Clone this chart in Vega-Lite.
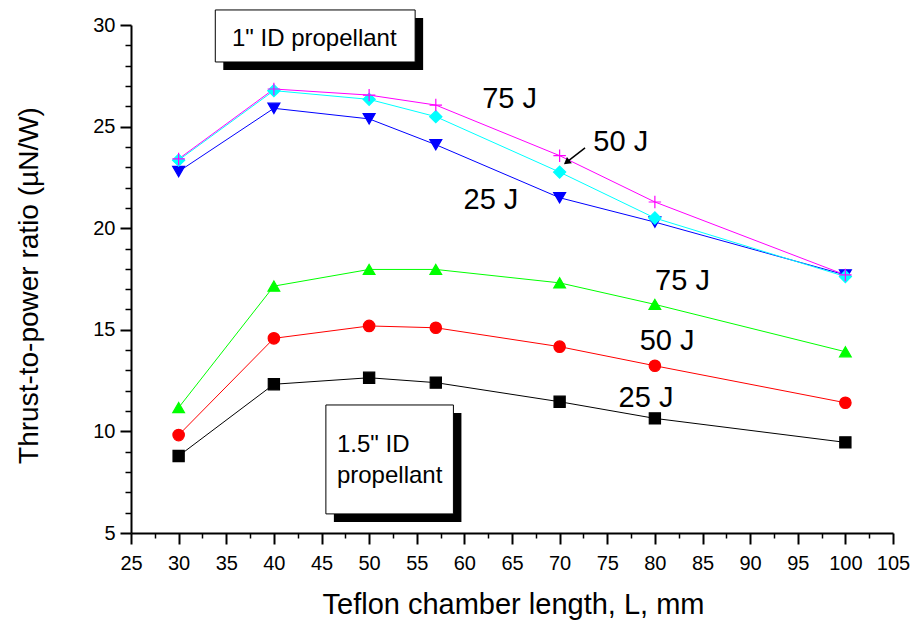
{
  "$schema": "https://vega.github.io/schema/vega-lite/v6.json",
  "width": 762,
  "height": 508,
  "autosize": {"type": "none"},
  "padding": {"left": 131, "top": 25, "right": 22, "bottom": 88},
  "background": "white",
  "config": {"view": {"stroke": null}, "font": "Liberation Sans"},
  "datasets": {
    "series": [
      {"L": 30, "ratio": 8.79, "series": "1.5in 25 J"},
      {"L": 40, "ratio": 12.32, "series": "1.5in 25 J"},
      {"L": 50, "ratio": 12.64, "series": "1.5in 25 J"},
      {"L": 57, "ratio": 12.40, "series": "1.5in 25 J"},
      {"L": 70, "ratio": 11.46, "series": "1.5in 25 J"},
      {"L": 80, "ratio": 10.64, "series": "1.5in 25 J"},
      {"L": 100, "ratio": 9.46, "series": "1.5in 25 J"},
      {"L": 30, "ratio": 9.82, "series": "1.5in 50 J"},
      {"L": 40, "ratio": 14.58, "series": "1.5in 50 J"},
      {"L": 50, "ratio": 15.19, "series": "1.5in 50 J"},
      {"L": 57, "ratio": 15.10, "series": "1.5in 50 J"},
      {"L": 70, "ratio": 14.17, "series": "1.5in 50 J"},
      {"L": 80, "ratio": 13.23, "series": "1.5in 50 J"},
      {"L": 100, "ratio": 11.41, "series": "1.5in 50 J"},
      {"L": 30, "ratio": 11.17, "series": "1.5in 75 J"},
      {"L": 40, "ratio": 17.15, "series": "1.5in 75 J"},
      {"L": 50, "ratio": 17.97, "series": "1.5in 75 J"},
      {"L": 57, "ratio": 17.97, "series": "1.5in 75 J"},
      {"L": 70, "ratio": 17.31, "series": "1.5in 75 J"},
      {"L": 80, "ratio": 16.25, "series": "1.5in 75 J"},
      {"L": 100, "ratio": 13.92, "series": "1.5in 75 J"},
      {"L": 30, "ratio": 22.79, "series": "1in 25 J"},
      {"L": 40, "ratio": 25.90, "series": "1in 25 J"},
      {"L": 50, "ratio": 25.38, "series": "1in 25 J"},
      {"L": 57, "ratio": 24.11, "series": "1in 25 J"},
      {"L": 70, "ratio": 21.50, "series": "1in 25 J"},
      {"L": 80, "ratio": 20.30, "series": "1in 25 J"},
      {"L": 100, "ratio": 17.70, "series": "1in 25 J"},
      {"L": 30, "ratio": 23.35, "series": "1in 50 J"},
      {"L": 40, "ratio": 26.77, "series": "1in 50 J"},
      {"L": 50, "ratio": 26.34, "series": "1in 50 J"},
      {"L": 57, "ratio": 25.49, "series": "1in 50 J"},
      {"L": 70, "ratio": 22.76, "series": "1in 50 J"},
      {"L": 80, "ratio": 20.50, "series": "1in 50 J"},
      {"L": 100, "ratio": 17.62, "series": "1in 50 J"},
      {"L": 30, "ratio": 23.41, "series": "1in 75 J"},
      {"L": 40, "ratio": 26.85, "series": "1in 75 J"},
      {"L": 50, "ratio": 26.55, "series": "1in 75 J"},
      {"L": 57, "ratio": 26.06, "series": "1in 75 J"},
      {"L": 70, "ratio": 23.57, "series": "1in 75 J"},
      {"L": 80, "ratio": 21.29, "series": "1in 75 J"},
      {"L": 100, "ratio": 17.70, "series": "1in 75 J"}
    ],
    "labels": [
      {"x": 64.75, "y": 25.90, "text": "75 J"},
      {"x": 76.42, "y": 23.81, "text": "50 J"},
      {"x": 62.79, "y": 20.93, "text": "25 J"},
      {"x": 82.90, "y": 16.96, "text": "75 J"},
      {"x": 81.28, "y": 14.01, "text": "50 J"},
      {"x": 79.07, "y": 11.20, "text": "25 J"}
    ],
    "boxes": [
      {"x1": 33.85, "x2": 54.83, "y1": 30.74, "y2": 28.18},
      {"x1": 45.46, "x2": 58.85, "y1": 11.30, "y2": 5.94}
    ],
    "boxText": [
      {"x": 35.60, "y": 28.98, "text": "1\" ID propellant"},
      {"x": 46.62, "y": 9.00, "text": "1.5\" ID"},
      {"x": 46.62, "y": 7.46, "text": "propellant"}
    ],
    "arrow": [
      {"x": 72.67, "y": 23.95, "x2": 70.74, "y2": 23.25}
    ],
    "arrowHead": [
      {"x": 70.74, "y": 23.25}
    ]
  },
  "resolve": {"axis": {"x": "independent", "y": "independent"}},
  "layer": [
    {
      "data": {"name": "series"},
      "mark": {"type": "point", "opacity": 0},
      "encoding": {
        "x": {"field": "L", "type": "quantitative",
          "scale": {"domain": [25, 105], "nice": false, "zero": false},
          "axis": {"orient": "bottom", "values": [27.5, 32.5, 37.5, 42.5, 47.5, 52.5, 57.5, 62.5, 67.5, 72.5, 77.5, 82.5, 87.5, 92.5, 97.5, 102.5],
            "tickSize": 5, "tickWidth": 1.5, "tickColor": "black", "labels": false, "domain": false, "grid": false, "title": null}},
        "y": {"field": "ratio", "type": "quantitative",
          "scale": {"domain": [5, 30], "nice": false, "zero": false},
          "axis": {"orient": "left", "values": [6, 7, 8, 9, 11, 12, 13, 14, 16, 17, 18, 19, 21, 22, 23, 24, 26, 27, 28, 29],
            "tickSize": 6, "tickWidth": 1.5, "tickColor": "black", "labels": false, "domain": false, "grid": false, "title": null}}
      }
    },
    {
      "data": {"name": "boxes"},
      "mark": {"type": "rect", "fill": "black", "xOffset": 8, "x2Offset": 8, "yOffset": 8, "y2Offset": 8},
      "encoding": {
        "x": {"field": "x1", "type": "quantitative", "axis": null},
        "x2": {"field": "x2"},
        "y": {"field": "y1", "type": "quantitative", "axis": null},
        "y2": {"field": "y2"}
      }
    },
    {
      "data": {"name": "boxes"},
      "mark": {"type": "rect", "fill": "white", "stroke": "black", "strokeWidth": 1},
      "encoding": {
        "x": {"field": "x1", "type": "quantitative", "axis": null},
        "x2": {"field": "x2"},
        "y": {"field": "y1", "type": "quantitative", "axis": null},
        "y2": {"field": "y2"}
      }
    },
    {
      "data": {"name": "boxText"},
      "mark": {"type": "text", "align": "left", "baseline": "alphabetic", "fontSize": 24, "color": "black"},
      "encoding": {
        "x": {"field": "x", "type": "quantitative", "axis": null},
        "y": {"field": "y", "type": "quantitative", "axis": null},
        "text": {"field": "text"}
      }
    },
    {
      "data": {"name": "series"},
      "mark": {"type": "line", "strokeWidth": 1},
      "encoding": {
        "x": {"field": "L", "type": "quantitative",
          "scale": {"domain": [25, 105], "nice": false, "zero": false},
          "axis": {"orient": "bottom", "values": [25, 30, 35, 40, 45, 50, 55, 60, 65, 70, 75, 80, 85, 90, 95, 100, 105],
            "tickSize": 11, "tickWidth": 2, "tickColor": "black", "domainColor": "black", "domainWidth": 2,
            "labelFontSize": 20, "labelColor": "black", "labelPadding": 9, "labelFlush": false, "labelOverlap": false,
            "grid": false, "title": "Teflon chamber length, L, mm", "titleFontSize": 29, "titleFontWeight": "normal",
            "titleColor": "black", "titleX": 382, "titleY": 80, "titleBaseline": "alphabetic", "titleAlign": "center"}},
        "y": {"field": "ratio", "type": "quantitative",
          "scale": {"domain": [5, 30], "nice": false, "zero": false},
          "axis": {"orient": "left", "values": [5, 10, 15, 20, 25, 30],
            "tickSize": 11, "tickWidth": 2, "tickColor": "black", "domainColor": "black", "domainWidth": 2,
            "labelFontSize": 20, "labelColor": "black", "labelPadding": 5, "labelFlush": false, "labelOverlap": false,
            "grid": false, "title": "Thrust-to-power ratio (µN/W)", "titleFontSize": 28, "titleFontWeight": "normal",
            "titleColor": "black", "titleAngle": -90, "titleX": -94, "titleY": 260, "titleBaseline": "alphabetic", "titleAlign": "center"}},
        "color": {"field": "series", "type": "nominal", "legend": null,
          "scale": {"domain": ["1.5in 25 J", "1.5in 50 J", "1.5in 75 J", "1in 25 J", "1in 50 J", "1in 75 J"],
            "range": ["#000000", "#ff0000", "#00ff00", "#0000ff", "#00ffff", "#ff00ff"]}}
      }
    },
    {
      "data": {"name": "series"},
      "mark": {"type": "point", "filled": false, "opacity": 1, "strokeWidth": 1.2},
      "encoding": {
        "x": {"field": "L", "type": "quantitative", "axis": null},
        "y": {"field": "ratio", "type": "quantitative", "axis": null},
        "fill": {"field": "series", "type": "nominal", "legend": null,
          "scale": {"domain": ["1.5in 25 J", "1.5in 50 J", "1.5in 75 J", "1in 25 J", "1in 50 J", "1in 75 J"],
            "range": ["#000000", "#ff0000", "#00ff00", "#0000ff", "#00ffff", "#ff00ff"]}},
        "stroke": {"field": "series", "type": "nominal", "legend": null,
          "scale": {"domain": ["1.5in 25 J", "1.5in 50 J", "1.5in 75 J", "1in 25 J", "1in 50 J", "1in 75 J"],
            "range": ["#000000", "#ff0000", "#00ff00", "#0000ff", "#00ffff", "#ff00ff"]}},
        "shape": {"field": "series", "type": "nominal", "legend": null,
          "scale": {"domain": ["1.5in 25 J", "1.5in 50 J", "1.5in 75 J", "1in 25 J", "1in 50 J", "1in 75 J"],
            "range": ["square", "circle", "triangle-up", "triangle-down", "diamond", "M-1,0H1M0,-1V1"]}},
        "size": {"field": "series", "type": "ordinal", "legend": null,
          "scale": {"domain": ["1.5in 25 J", "1.5in 50 J", "1.5in 75 J", "1in 25 J", "1in 50 J", "1in 75 J"],
            "range": [125, 155, 200, 200, 180, 150]}}
      }
    },
    {
      "data": {"name": "labels"},
      "mark": {"type": "text", "align": "center", "baseline": "alphabetic", "fontSize": 29, "color": "black"},
      "encoding": {
        "x": {"field": "x", "type": "quantitative", "axis": null},
        "y": {"field": "y", "type": "quantitative", "axis": null},
        "text": {"field": "text"}
      }
    },
    {
      "data": {"name": "arrow"},
      "mark": {"type": "rule", "color": "black", "strokeWidth": 1.5},
      "encoding": {
        "x": {"field": "x", "type": "quantitative", "axis": null},
        "y": {"field": "y", "type": "quantitative", "axis": null},
        "x2": {"field": "x2"},
        "y2": {"field": "y2"}
      }
    },
    {
      "data": {"name": "arrowHead"},
      "mark": {"type": "point", "shape": "triangle-up", "filled": true, "color": "black", "opacity": 1, "size": 64, "angle": 232},
      "encoding": {
        "x": {"field": "x", "type": "quantitative", "axis": null},
        "y": {"field": "y", "type": "quantitative", "axis": null}
      }
    }
  ]
}
